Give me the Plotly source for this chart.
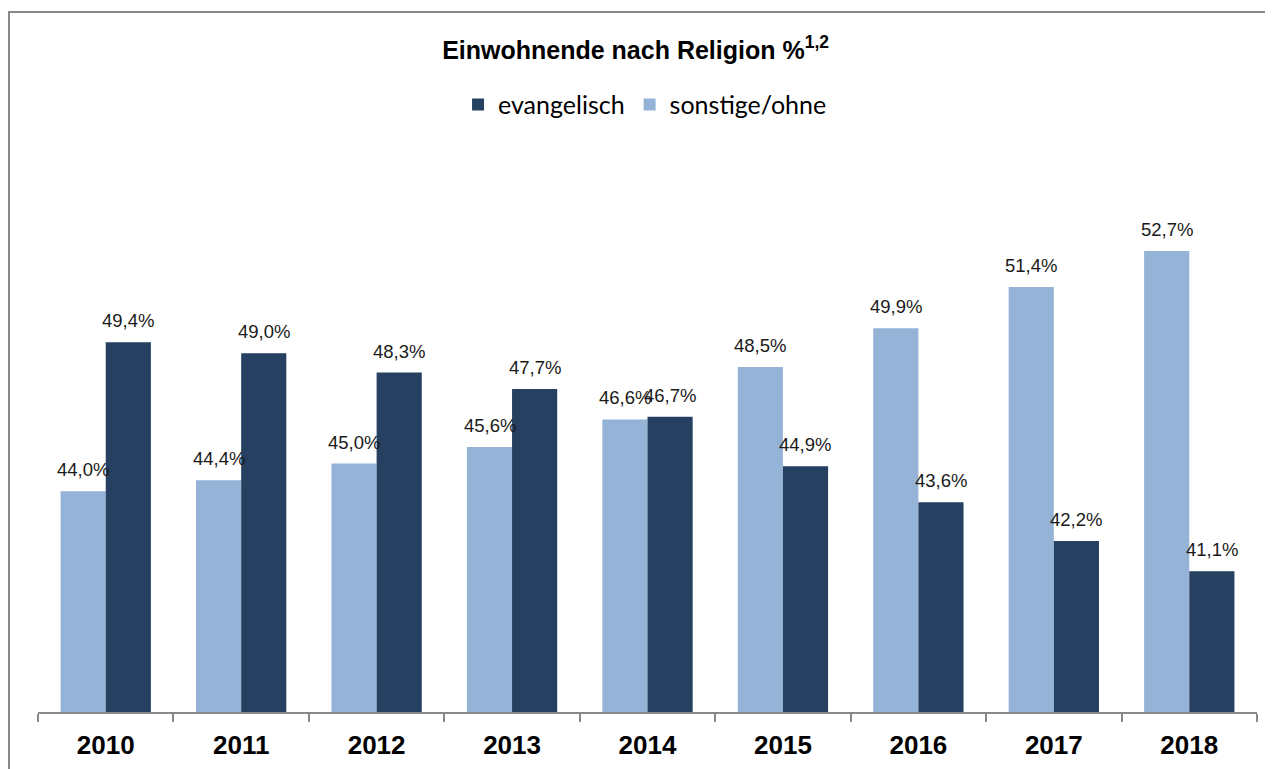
import plotly.graph_objects as go

years = ["2010", "2011", "2012", "2013", "2014", "2015", "2016", "2017", "2018"]
sonstige = [44.0, 44.4, 45.0, 45.6, 46.6, 48.5, 49.9, 51.4, 52.7]
evangelisch = [49.4, 49.0, 48.3, 47.7, 46.7, 44.9, 43.6, 42.2, 41.1]

C_LIGHT = "#95B3D7"
C_DARK = "#254061"

def fmt(v):
    return f"{v:.1f}".replace(".", ",") + "%"

fig = go.Figure()
fig.add_trace(go.Bar(name="sonstige/ohne", x=years, y=sonstige, marker_color=C_LIGHT,
                     marker_line_width=0, legendrank=2))
fig.add_trace(go.Bar(name="evangelisch", x=years, y=evangelisch, marker_color=C_DARK,
                     marker_line_width=0, legendrank=1))

annos = []
for series, shift in ((sonstige, -22.5), (evangelisch, 22.5)):
    for i, v in enumerate(series):
        annos.append(dict(x=i, y=v, xref="x", yref="y", text=fmt(v), showarrow=False,
                          xshift=shift, yshift=9, yanchor="bottom",
                          font=dict(family="Liberation Sans, Arial", size=18.5, color="#1a1a1a")))

fig.update_layout(
    width=1273, height=769,
    margin=dict(l=30, r=24, t=152, b=65),
    paper_bgcolor="white", plot_bgcolor="white",
    barmode="group", bargap=1/3, bargroupgap=0,
    title=dict(text="<b>Einwohnende nach Religion %<sup>1,2</sup></b>", x=0.493, xanchor="center",
               y=1 - 42 / 769, yanchor="middle",
               font=dict(family="Liberation Sans, Arial", size=25, color="black")),
    legend=dict(orientation="h", x=0.498, xanchor="center", y=1.10, yanchor="middle",
                font=dict(family="Lato, Carlito, sans-serif", size=25, color="black"),
                itemwidth=30, bgcolor="rgba(0,0,0,0)"),
    showlegend=True,
    annotations=annos,
    shapes=[dict(type="rect", xref="paper", yref="paper", x0=-0.0238, x1=1.1, y0=-0.5, y1=1.268,
                 line=dict(color="#888888", width=2), layer="below")],
)
fig.update_xaxes(type="category", range=[-0.5, len(years) - 0.5], showline=True,
                 linecolor="#888888", linewidth=1.5,
                 ticks="outside", tickson="boundaries", ticklen=8, tickcolor="#888888", tickwidth=1.5,
                 tickfont=dict(family="Liberation Sans, Arial", size=26, color="black", weight="bold"),
                 tickangle=0, ticklabelstandoff=9, showgrid=False)
fig.update_yaxes(range=[36, 56], visible=False, showgrid=False)

fig.write_html("out.html")
